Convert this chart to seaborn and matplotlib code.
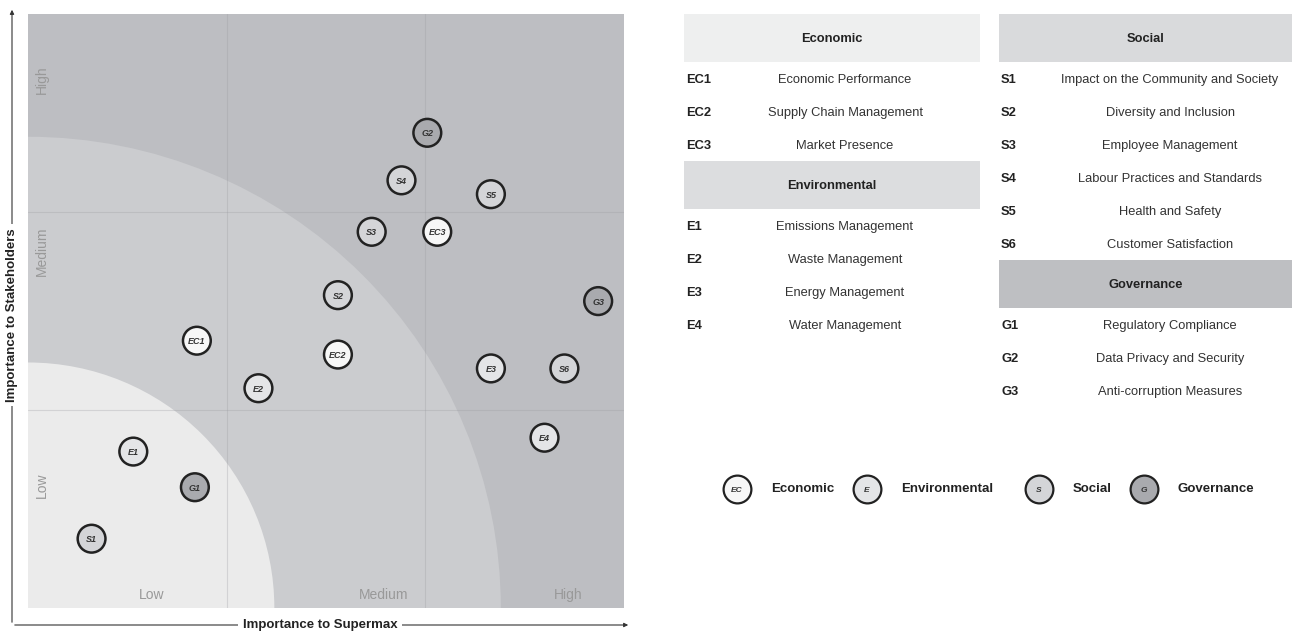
import numpy as np
import pandas as pd
import matplotlib.pyplot as plt
import seaborn as sns
from matplotlib.patches import Circle, Rectangle

# Materiality matrix data
codes = ['G2', 'S4', 'S5', 'S3', 'EC3', 'S2', 'G3', 'EC1', 'EC2', 'E3', 'S6',
         'E2', 'E4', 'E1', 'G1', 'S1']
supermax = [2.01, 1.88, 2.33, 1.73, 2.06, 1.56, 2.87, 0.85, 1.56, 2.33, 2.70,
            1.16, 2.60, 0.53, 0.84, 0.32]
stakeholders = [2.40, 2.16, 2.09, 1.90, 1.90, 1.58, 1.55, 1.35, 1.28, 1.21, 1.21,
                1.11, 0.86, 0.79, 0.61, 0.35]
groups = ['Governance', 'Social', 'Social', 'Social', 'Economic', 'Social', 'Governance',
          'Economic', 'Economic', 'Environmental', 'Social', 'Environmental',
          'Environmental', 'Environmental', 'Governance', 'Social']

level_labels = ['Low', 'Medium', 'High']

economic_codes = ['EC1', 'EC2', 'EC3']
economic_topics = ['Economic Performance', 'Supply Chain Management', 'Market Presence']
environmental_codes = ['E1', 'E2', 'E3', 'E4']
environmental_topics = ['Emissions Management', 'Waste Management', 'Energy Management',
                        'Water Management']
social_codes = ['S1', 'S2', 'S3', 'S4', 'S5', 'S6']
social_topics = ['Impact on the Community and Society', 'Diversity and Inclusion',
                 'Employee Management', 'Labour Practices and Standards',
                 'Health and Safety', 'Customer Satisfaction']
governance_codes = ['G1', 'G2', 'G3']
governance_topics = ['Regulatory Compliance', 'Data Privacy and Security',
                     'Anti-corruption Measures']

legend_groups = ['Economic', 'Environmental', 'Social', 'Governance']
legend_short = ['EC', 'E', 'S', 'G']

palette = {'Economic': '#f7f7f7', 'Environmental': '#e4e5e7',
           'Social': '#d4d5d8', 'Governance': '#a9aaae'}

df = pd.DataFrame({'code': codes, 'x': supermax, 'y': stakeholders, 'group': groups})

sns.set_style('white')
plt.rcParams['font.family'] = ['Liberation Sans', 'DejaVu Sans']

W, H = 1292, 632
fig = plt.figure(figsize=(W / 100, H / 100), dpi=100)

# main matrix axes
ax = fig.add_axes([28 / W, (H - 608) / H, 596 / W, 594 / H])
ax.set_xlim(0, 3)
ax.set_ylim(0, 3)
ax.set_facecolor('#bdbec2')
ax.add_patch(Circle((0, 0), 2.38, facecolor='#cbcccf', edgecolor='none', zorder=0))
ax.add_patch(Circle((0, 0), 1.24, facecolor='#ebebeb', edgecolor='none', zorder=0))
for v in [1, 2]:
    ax.axvline(v, color='#9a9ba0', lw=0.8, alpha=0.3, zorder=1)
    ax.axhline(v, color='#9a9ba0', lw=0.8, alpha=0.3, zorder=1)

sns.scatterplot(data=df, x='x', y='y', hue='group', palette=palette, s=400,
                edgecolor='#222222', linewidth=1.8, legend=False, ax=ax, zorder=3)
for _, r in df.iterrows():
    ax.text(r['x'], r['y'], r['code'], ha='center', va='center_baseline', fontsize=6.5,
            fontweight='bold', fontstyle='italic', color='#333333', zorder=4)

# level labels
for lab, px in zip(level_labels, [0.62, 1.79, 2.72]):
    ax.text(px, 0.065, lab, ha='center', va='center', fontsize=10, color='#999999')
for lab, py in zip(level_labels, [0.62, 1.8, 2.67]):
    ax.text(0.07, py, lab, ha='center', va='center', fontsize=10, color='#999999',
            rotation=90)
ax.set_xticks([])
ax.set_yticks([])
ax.set_xlabel('')
ax.set_ylabel('')
for s in ax.spines.values():
    s.set_visible(False)

# overlay in pixel coordinates for axis arrows, table and legend
ov = fig.add_axes([0, 0, 1, 1])
ov.set_xlim(0, W)
ov.set_ylim(H, 0)
ov.axis('off')
ov.patch.set_alpha(0)

ov.annotate('', xy=(12, 7), xytext=(12, 625),
            arrowprops=dict(arrowstyle='-|>', color='#333333', lw=0.8, mutation_scale=6))
ov.annotate('', xy=(631, 625), xytext=(12, 625),
            arrowprops=dict(arrowstyle='-|>', color='#333333', lw=0.8, mutation_scale=6))
ov.text(12, 315, 'Importance to Stakeholders', rotation=90, ha='center', va='center',
        fontsize=9.5, fontweight='bold', color='#222222',
        bbox=dict(facecolor='white', edgecolor='none', pad=3))
ov.text(320, 625, 'Importance to Supermax', ha='center', va='center',
        fontsize=9.5, fontweight='bold', color='#222222',
        bbox=dict(facecolor='white', edgecolor='none', pad=3))


def table_block(x0, x1, top, title, fill, tcodes, topics, desc_x):
    ov.add_patch(Rectangle((x0, top), x1 - x0, 48, facecolor=fill, edgecolor='none'))
    ov.text((x0 + x1) / 2, top + 25, title, ha='center', va='center', fontsize=9.3,
            fontweight='bold', color='#222222')
    y = top + 66
    for c, t in zip(tcodes, topics):
        ov.text(x0 + 2, y, c, ha='left', va='center', fontsize=9.3, fontweight='bold',
                color='#222222')
        ov.text(desc_x, y, t, ha='center', va='center', fontsize=9.3, color='#333333')
        y += 33
    return y - 18


y_end = table_block(684, 980, 14, 'Economic', '#eeefef', economic_codes,
                    economic_topics, 845)
table_block(684, 980, y_end, 'Environmental', '#dcdddf', environmental_codes,
            environmental_topics, 845)
y_end = table_block(999, 1292, 14, 'Social', '#d9dadc', social_codes, social_topics, 1170)
table_block(999, 1292, y_end, 'Governance', '#bebfc2', governance_codes,
            governance_topics, 1170)

# legend
leg_x = [737, 867, 1039, 1144]
for g, short, lx in zip(legend_groups, legend_short, leg_x):
    ov.scatter([lx], [489], s=400, facecolor=palette[g], edgecolor='#222222', linewidth=1.6)
    ov.text(lx, 489, short, ha='center', va='center_baseline', fontsize=6,
            fontstyle='italic', fontweight='bold', color='#333333')
    ov.text(lx + 34, 489, g, ha='left', va='center', fontsize=9.5, fontweight='bold',
            color='#222222')

fig.savefig('out.png', dpi=100)
